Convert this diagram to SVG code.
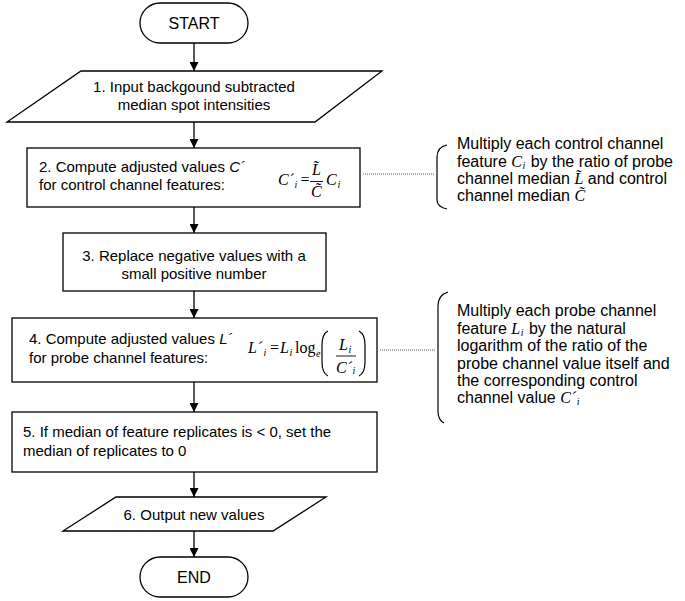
<svg xmlns="http://www.w3.org/2000/svg" width="685" height="601" viewBox="0 0 685 601">
<style>
.shape{fill:#fff;stroke:#000;stroke-width:1.3}
.t{font-family:"Liberation Sans",Arial,sans-serif;font-size:15px;fill:#000}
.c{text-anchor:middle}
.side{font-family:"Liberation Sans",Arial,sans-serif;font-size:16px;fill:#000}
.m{font-family:"Liberation Serif","Times New Roman",serif;font-style:italic;font-size:16px;fill:#000}
.mr{font-family:"Liberation Serif","Times New Roman",serif;font-style:normal;font-size:16px;fill:#000}
.sub{font-size:10px}
.conn{stroke:#000;stroke-width:1.3;fill:none}
.dot{stroke:#555;stroke-width:1;stroke-dasharray:1 1;fill:none}
.br{stroke:#000;stroke-width:1.2;fill:none}
</style>
<defs>
<marker id="ah" markerUnits="userSpaceOnUse" markerWidth="9" markerHeight="9" refX="9" refY="4.5" orient="auto">
<path d="M0,0 L9,4.5 L0,9 z" fill="#000"/>
</marker>
</defs>
<rect width="685" height="601" fill="#fff"/>
<g id="connectors">
<line class="conn" x1="194" y1="43" x2="194" y2="71" marker-end="url(#ah)"/>
<line class="conn" x1="194" y1="122" x2="194" y2="148" marker-end="url(#ah)"/>
<line class="conn" x1="194" y1="207" x2="194" y2="233" marker-end="url(#ah)"/>
<line class="conn" x1="194" y1="291" x2="194" y2="318" marker-end="url(#ah)"/>
<line class="conn" x1="194" y1="382" x2="194" y2="412" marker-end="url(#ah)"/>
<line class="conn" x1="194" y1="472" x2="194" y2="497" marker-end="url(#ah)"/>
<line class="conn" x1="194" y1="531" x2="194" y2="557" marker-end="url(#ah)"/>
<line class="dot" x1="363" y1="174" x2="435" y2="174"/>
<line class="dot" x1="380" y1="350" x2="435" y2="350"/>
</g>
<g id="start">
<rect class="shape" x="140" y="3" width="108" height="40" rx="20"/>
<text class="t c" x="194" y="29" style="font-size:16px">START</text>
</g>
<g id="step1">
<polygon class="shape" points="81,71 382,71 315,122 7,122"/>
<text class="t c" x="194" y="92">1. Input backgound subtracted</text>
<text class="t c" x="194" y="110">median spot intensities</text>
</g>
<g id="step2">
<rect class="shape" x="27" y="148" width="333" height="59"/>
<text class="t" x="39" y="172">2. Compute adjusted values <tspan font-style="italic">C´</tspan></text>
<text class="t" x="39" y="190">for control channel features:</text>
<text class="m" x="278" y="185">C´</text>
<text class="m sub" x="294.5" y="188">i</text>
<text class="mr" x="300.5" y="185">=</text>
<text class="m" x="312" y="175">L̃</text>
<line x1="310" y1="181.5" x2="323" y2="181.5" stroke="#000" stroke-width="0.9"/>
<text class="m" x="311" y="197">C̃</text>
<text class="m" x="326" y="185">C</text>
<text class="m sub" x="337.5" y="188">i</text>
</g>
<g id="step3">
<rect class="shape" x="63" y="233" width="263" height="58"/>
<text class="t c" x="194" y="261">3. Replace negative values with a</text>
<text class="t c" x="194" y="279">small positive number</text>
</g>
<g id="step4">
<rect class="shape" x="12" y="318" width="365" height="64"/>
<text class="t" x="29" y="344">4. Compute adjusted values <tspan font-style="italic">L´</tspan></text>
<text class="t" x="29" y="363">for probe channel features:</text>
<text class="m" x="248" y="353">L´</text>
<text class="m sub" x="263.5" y="356">i</text>
<text class="mr" x="270" y="353">=</text>
<text class="m" x="280" y="353">L</text>
<text class="m sub" x="289.5" y="356">i</text>
<text class="mr" x="295" y="353">log</text>
<text class="m sub" x="316" y="357">e</text>
<path class="br" d="M328,331 Q322,334 322,345 L322,362 Q322,373 328,376"/>
<text class="m" x="339" y="350">L</text>
<text class="m sub" x="348.5" y="353">i</text>
<line x1="336" y1="356" x2="356" y2="356" stroke="#000" stroke-width="0.9"/>
<text class="m" x="336" y="373">C´</text>
<text class="m sub" x="352.5" y="374">i</text>
<path class="br" d="M359,331 Q365,334 365,345 L365,362 Q365,373 359,376"/>
</g>
<g id="step5">
<rect class="shape" x="12" y="412" width="365" height="60"/>
<text class="t" x="23" y="437">5. If median of feature replicates is &lt; 0, set the</text>
<text class="t" x="23" y="456">median of replicates to 0</text>
</g>
<g id="step6">
<polygon class="shape" points="116,497 326,497 273,531 63,531"/>
<text class="t c" x="194" y="520">6. Output new values</text>
</g>
<g id="end">
<rect class="shape" x="140" y="557" width="108" height="40" rx="20"/>
<text class="t c" x="194" y="583" style="font-size:16px">END</text>
</g>
<g id="note1">
<path class="br" d="M447,145 Q437,147 437,157 L437,200 Q437,207 447,209"/>
<text class="side" x="457" y="149">Multiply each control channel</text>
<text class="side" x="457" y="166.5">feature <tspan class="m">C</tspan><tspan class="m sub" dx="0.5" dy="2">i</tspan><tspan dx="1" dy="-2"> by the ratio of probe</tspan></text>
<text class="side" x="457" y="184">channel median <tspan class="m">L̃</tspan> and control</text>
<text class="side" x="457" y="201">channel median <tspan class="m">C̃</tspan></text>
</g>
<g id="note2">
<path class="br" d="M448,292 Q438,295 438,306 L438,411 Q438,420 444,423"/>
<text class="side" x="457" y="316">Multiply each probe channel</text>
<text class="side" x="457" y="333.5">feature <tspan class="m">L</tspan><tspan class="m sub" dx="0.5" dy="2">i</tspan><tspan dx="1" dy="-2"> by the natural</tspan></text>
<text class="side" x="457" y="351">logarithm of the ratio of the</text>
<text class="side" x="457" y="368.5">probe channel value itself and</text>
<text class="side" x="457" y="386">the corresponding control</text>
<text class="side" x="457" y="403">channel value <tspan class="m">C´</tspan><tspan class="m sub" dx="0.5" dy="2">i</tspan></text>
</g>
</svg>
